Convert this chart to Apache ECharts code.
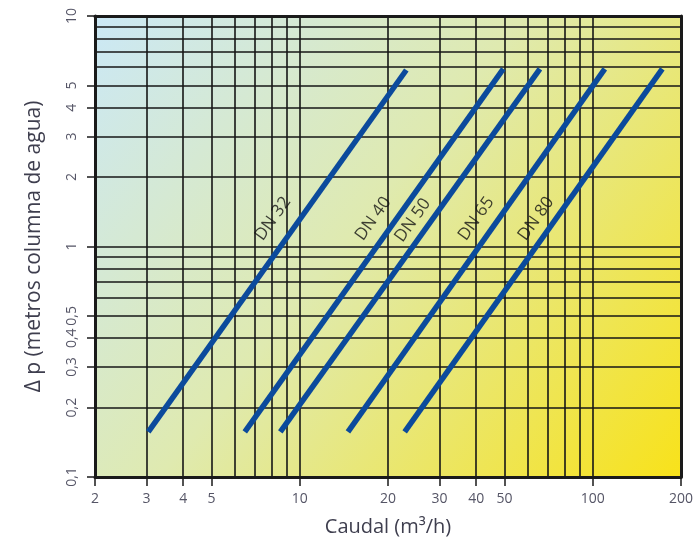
<!DOCTYPE html>
<html><head><meta charset="utf-8">
<script src="https://cdn.jsdelivr.net/npm/echarts@6/dist/echarts.min.js"></script>
<style>html,body{margin:0;padding:0;background:#fff}#c{width:698px;height:546px}</style>
</head><body><div id="c"></div>
<script>
// ---- data ----
const xTickLabels = [2, 3, 4, 5, 10, 20, 30, 40, 50, 100, 200];
const yTickLabels = [0.1, 0.2, 0.3, 0.4, 0.5, 1, 2, 3, 4, 5, 10];
const xGridValues = [3, 4, 5, 6, 7, 8, 9, 10, 20, 30, 40, 50, 60, 70, 80, 90, 100];
const yGridValues = [0.2, 0.3, 0.4, 0.5, 0.6, 0.7, 0.8, 0.9, 1, 2, 3, 4, 5, 6, 7, 8, 9];
const seriesNames = ['DN 32', 'DN 40', 'DN 50', 'DN 65', 'DN 80'];
const flowStart = [3.04, 6.49, 8.58, 14.6, 22.8];
const flowEnd   = [23.1, 49.5, 66.0, 109.9, 172.7];
const dpStart   = [0.157, 0.157, 0.157, 0.157, 0.157];
const dpEnd     = [5.83, 5.9, 5.9, 5.9, 5.9];
const labelFlow = [8.1, 17.8, 24.3, 40.0, 64.0];
const labelDp   = [1.32, 1.32, 1.30, 1.32, 1.32];

const fmt = v => String(Number(Number(v).toPrecision(6))).replace('.', ',');
const FONT = '"Open Sans", "Noto Sans", sans-serif';

const chart = echarts.init(document.getElementById('c'), null, {renderer: 'canvas'});

const lineSeries = seriesNames.map((n, i) => ({
  name: n, type: 'line', xAxisIndex: 0, yAxisIndex: 0,
  data: [[flowStart[i], dpStart[i]], [flowEnd[i], dpEnd[i]]],
  symbol: 'none', silent: true,
  lineStyle: {color: '#0b4a9c', width: 5.5, cap: 'butt'},
  z: 5
}));

const labelSeries = {
  type: 'scatter', xAxisIndex: 0, yAxisIndex: 0, silent: true,
  symbolSize: 1, itemStyle: {color: 'rgba(0,0,0,0)'},
  data: seriesNames.map((n, i) => ({name: n, value: [labelFlow[i], labelDp[i]]})),
  label: {show: true, position: 'inside', formatter: '{b}', rotate: 54.5,
          color: '#111111', fontSize: 17, fontFamily: FONT},
  z: 6
};

const option = {
  animation: false,
  backgroundColor: '#ffffff',
  grid: {
    left: 95, right: 17, top: 16, bottom: 69, show: true, borderWidth: 0,
    backgroundColor: {type: 'linear', x: 0, y: 0, x2: 1, y2: 1,
      colorStops: [
        {offset: 0, color: '#cbe8f6'},
        {offset: 0.45, color: '#dfeab0'},
        {offset: 1, color: '#f8e21a'}
      ]}
  },
  xAxis: [
    {
      type: 'log', logBase: 10, min: 2, max: 200, position: 'bottom',
      name: 'Caudal (m³/h)', nameLocation: 'middle', nameGap: 40,
      nameTextStyle: {fontSize: 20, color: '#3e3e4e', fontFamily: FONT},
      axisLine: {show: true, onZero: false, lineStyle: {color: '#1a1a1a', width: 3}},
      axisTick: {show: true, customValues: xTickLabels, length: 9, lineStyle: {color: '#1a1a1a', width: 1.5}},
      axisLabel: {show: true, customValues: xTickLabels, formatter: fmt, margin: 15,
                  fontSize: 14, color: '#555566', fontFamily: FONT},
      splitLine: {show: false}, minorTick: {show: false}
    },
    {
      type: 'log', logBase: 10, min: 2, max: 200, position: 'top',
      axisLine: {show: true, onZero: false, lineStyle: {color: '#1a1a1a', width: 3}},
      axisTick: {show: false, customValues: xGridValues},
      axisLabel: {show: false},
      splitLine: {show: true, lineStyle: {color: '#161616', width: 1.6}}
    }
  ],
  yAxis: [
    {
      type: 'log', logBase: 10, min: 0.1, max: 10, position: 'left',
      name: 'Δ p (metros columna de agua)', nameLocation: 'middle', nameGap: 50,
      nameTextStyle: {fontSize: 21, color: '#3e3e4e', fontFamily: FONT},
      axisLine: {show: true, onZero: false, lineStyle: {color: '#1a1a1a', width: 3}},
      axisTick: {show: true, customValues: yTickLabels, length: 8, lineStyle: {color: '#1a1a1a', width: 1.5}},
      axisLabel: {show: true, customValues: yTickLabels, formatter: fmt, rotate: 90, margin: 16,
                  fontSize: 14, color: '#555566', fontFamily: FONT},
      splitLine: {show: false}, minorTick: {show: false}
    },
    {
      type: 'log', logBase: 10, min: 0.1, max: 10, position: 'right',
      axisLine: {show: true, onZero: false, lineStyle: {color: '#1a1a1a', width: 3}},
      axisTick: {show: false, customValues: yGridValues},
      axisLabel: {show: false},
      splitLine: {show: true, lineStyle: {color: '#161616', width: 1.6}}
    }
  ],
  series: lineSeries.concat([labelSeries])
};
chart.setOption(option);
</script></body></html>
